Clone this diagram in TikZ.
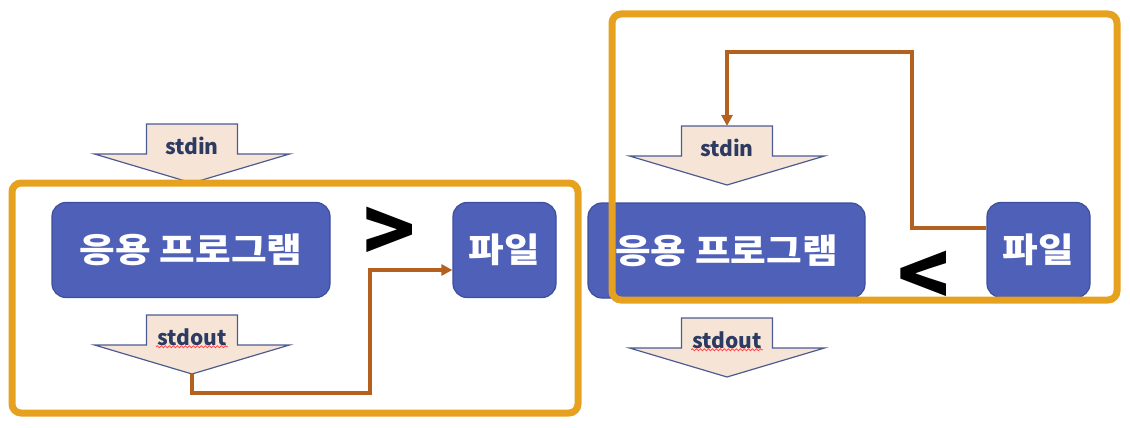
\documentclass[tikz,border=0pt]{standalone}
\usepackage{fontspec}
\setmainfont{Noto Sans CJK KR}
\newfontfamily\progfont[FakeStretch=1.14]{Noto Sans CJK KR}
\usetikzlibrary{arrows.meta,calc,decorations.pathmorphing}
\definecolor{FrameOrange}{HTML}{E6A21F}
\definecolor{ProgBlue}{HTML}{4F60B8}
\definecolor{ProgEdge}{HTML}{3E4E9C}
\definecolor{StreamFill}{HTML}{F6E5D6}
\definecolor{StreamEdge}{HTML}{4C5C92}
\definecolor{StreamText}{HTML}{2D3B63}
\definecolor{PipeBrown}{HTML}{B4601F}
\tikzset{prog/.style={draw=ProgEdge,line width=1.2pt,fill=ProgBlue,rounded corners=14pt,minimum height=95pt,text=white,font=\progfont\fontsize{34}{34}\selectfont\bfseries},
stream/.style={draw=StreamEdge,line width=1.2pt,fill=StreamFill},
streamlbl/.style={text=StreamText,font=\fontsize{21}{21}\selectfont\bfseries,inner sep=1pt},
frame/.style={draw=FrameOrange,line width=7pt,rounded corners=9pt},
pipe/.style={PipeBrown,line width=3.5pt,-{Triangle[length=11pt,width=11pt]}},
redir/.style={font=\fontsize{86}{86}\selectfont\bfseries},
wavy/.style={red!75,line width=0.8pt,decorate,decoration={snake,amplitude=1pt,segment length=4pt}}}
% block arrow with its label: name, top point, text
\newcommand{\stream}[3]{%
\draw[stream] (#2) ++(-45.5,0) -- ++(91,0) -- ++(0,30) -- ++(52,0) -- ++(-97.5,29) -- ++(-97.5,-29) -- ++(52,0) -- cycle;
\coordinate (#1top) at (#2); \coordinate (#1tip) at ($(#2)+(0,59)$);
\node[streamlbl] (#1) at ($(#2)+(0,22)$) {#3};}

\begin{document}
\begin{tikzpicture}[x=1pt,y=-1pt]
\useasboundingbox (0,0) rectangle (1130,428);
% left: stdout to file
\node[prog,minimum width=278pt] (appL) at (191,250) {응용 프로그램};
\node[prog,minimum width=103pt] (fileL) at (504.5,250) {파일};
\stream{inL}{192,124}{stdin}
\stream{outL}{192,315}{stdout}
\draw[wavy] (outL.south west) -- (outL.south east);
\node[redir] (gtL) at (390,235) {>};
\draw[pipe] (outLtip) -- ++(0,19) -| (370,270) -- (fileL.west |- 0,270);
\draw[frame] (12,183) rectangle (578,413);
% right: file to stdin
\node[prog,minimum width=277pt] (appR) at (726.5,250.5) {응용 프로그램};
\node[prog,minimum width=103pt] (fileR) at (1038.5,250) {파일};
\stream{inR}{727,126}{stdin}
\stream{outR}{727,318}{stdout}
\draw[wavy] (outR.south west) -- (outR.south east);
\node[redir] (ltR) at (924,279) {<};
\draw[pipe] (fileR.west |- 0,228) -| (912,52) -| (inRtop);
\draw[frame] (612,14) rectangle (1117,300);
\end{tikzpicture}
\end{document}
